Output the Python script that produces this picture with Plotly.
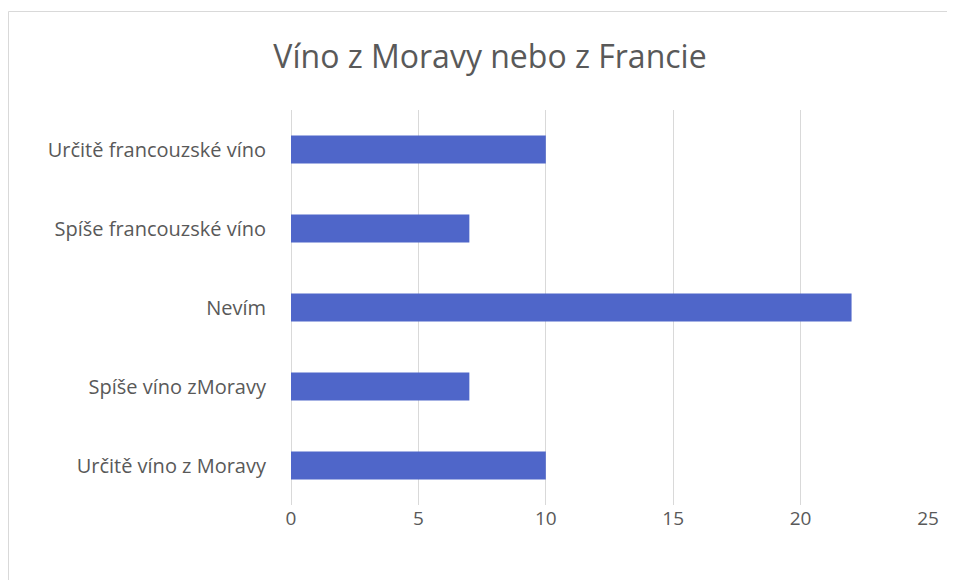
import plotly.graph_objects as go

categories = ["Určitě víno z Moravy", "Spíše víno zMoravy", "Nevím",
              "Spíše francouzské víno", "Určitě francouzské víno"]
values = [10, 7, 22, 7, 10]
x_ticks = [0, 5, 10, 15, 20, 25]

# page body adds an 8px margin, so the figure is 8px smaller and shifted
OFF = 8
W, H = 955 - OFF, 580 - OFF
L, R, T, B = 291 - OFF, 27, 110 - OFF, 75
pw, ph = W - L - R, H - T - B

def px(x):
    return (x - OFF - L) / pw

def py(y):
    return 1 - (y - OFF - T) / ph

fig = go.Figure(go.Bar(
    y=categories, x=values, orientation="h",
    marker=dict(color="#4F66C9", line=dict(width=0)),
))

FONT = "Open Sans"

fig.update_layout(
    width=W, height=H,
    margin=dict(l=L, r=R, t=T, b=B),
    paper_bgcolor="white", plot_bgcolor="white",
    bargap=0.645,
    showlegend=False,
    font=dict(family=FONT, color="#595959"),
    title=dict(text="Víno z Moravy nebo z Francie", x=px(490), xref="paper",
               xanchor="center", y=1 - (57 - OFF) / H, yanchor="middle",
               font=dict(size=32, family=FONT, color="#595959")),
    xaxis=dict(range=[0, 25], tickvals=x_ticks, showgrid=True,
               gridcolor="#D9D9D9", gridwidth=1, zeroline=True,
               zerolinecolor="#D9D9D9", zerolinewidth=1, showline=False,
               ticks="", tickfont=dict(size=19, color="#595959"),
               ticklabelstandoff=0, fixedrange=True),
    yaxis=dict(showgrid=False, showline=False, ticks="",
               tickfont=dict(size=20, color="#595959"),
               ticklabelstandoff=24, fixedrange=True),
    shapes=[dict(type="rect", xref="paper", yref="paper",
                 x0=px(8.5), x1=px(962), y0=py(590), y1=py(11.5),
                 line=dict(color="#D9D9D9", width=1), fillcolor="rgba(0,0,0,0)",
                 layer="below")],
)

fig.write_html("out.html")
